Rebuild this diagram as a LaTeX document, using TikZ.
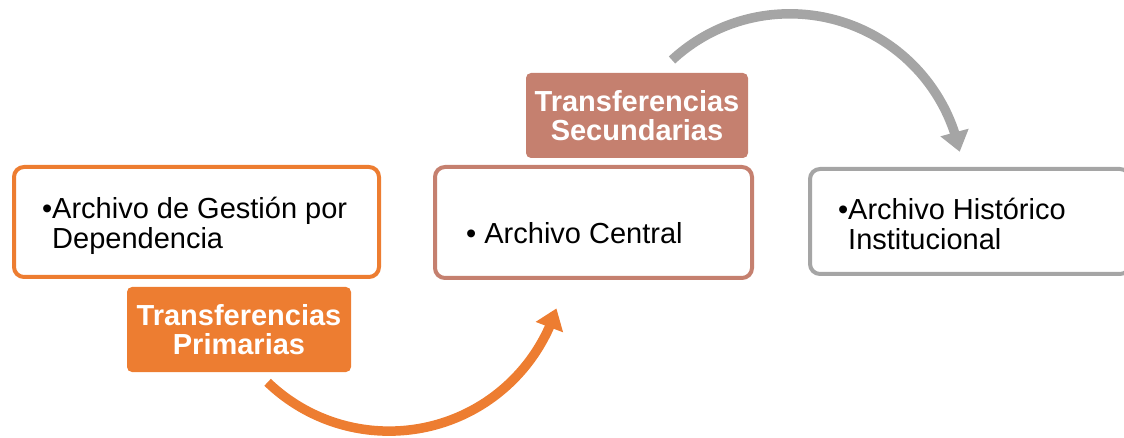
\documentclass[tikz,border=0pt]{standalone}
\usepackage{fontspec}
\setmainfont{Liberation Sans}
\usetikzlibrary{arrows.meta,bending,positioning}
\definecolor{naranja}{HTML}{ED7D31}
\definecolor{salmon}{HTML}{C5806F}
\definecolor{gris}{HTML}{A5A5A5}
\tikzset{>=latex}

\begin{document}
\begin{tikzpicture}[x=1pt,y=-1pt,
    caja/.style={draw,line width=4pt,rounded corners=10pt,fill=white,inner sep=0pt},
    etiqueta/.style={rounded corners=5pt,inner sep=0pt,text=white,align=center,
      font=\fontsize{29}{29.5}\selectfont\bfseries},
    texto/.style={anchor=west,inner sep=0pt,align=left,font=\fontsize{29}{30}\selectfont},
    flecha/.style={line width=9.5pt,-{Triangle[width=28pt,length=20pt]}}]
    \useasboundingbox (0,0) rectangle (1124,438);
    % arcs behind the boxes
    \coordinate (g0) at (672,60);
    \coordinate (o0) at (267.6,382.3);
    \draw [flecha,gris] (g0) arc [start angle=-132.8,end angle=-11.8,radius=173.5];
    \draw [flecha,naranja] (o0) arc [start angle=133.8,end angle=17.5,radius=175.5];
    % boxes
    \node [caja,draw=naranja,minimum width=365,minimum height=110] (gestion) at (196.5,222) {};
    \node [caja,draw=salmon,minimum width=317,minimum height=111] (central) at (593.5,222.5) {};
    \node [caja,draw=gris,minimum width=320,minimum height=105] (historico) at (970,221.5) {};
    \node [texto] (t1) at (52,226) {\llap{•}Archivo de Gestión por\\Dependencia};
    \node [texto] (t2) at (466,233) {• Archivo Central};
    \node [texto] (t3) at (848,224) {\llap{•}Archivo Histórico\\Institucional};
    % labels
    \node [etiqueta,fill=naranja,minimum width=224,minimum height=85] (primarias) at (239,329.5) {Transferencias\\Primarias};
    \node [etiqueta,fill=salmon,minimum width=222,minimum height=85] (secundarias) at (637,115.5) {Transferencias\\Secundarias};
\end{tikzpicture}
\end{document}
